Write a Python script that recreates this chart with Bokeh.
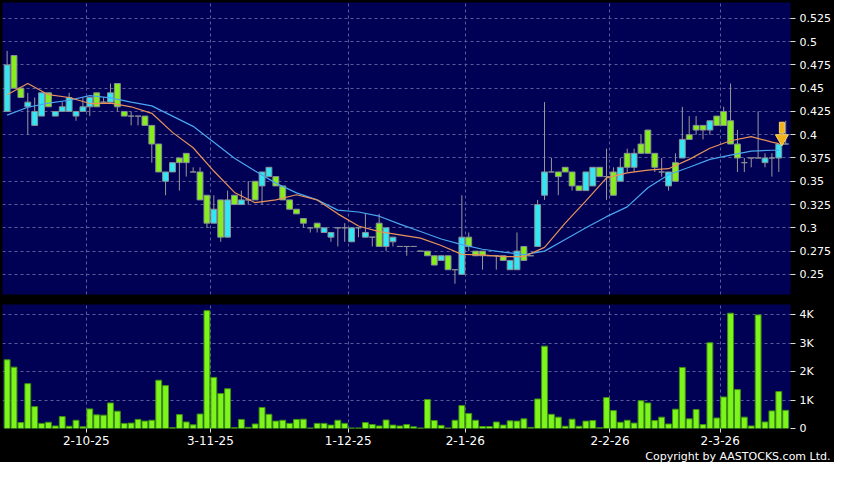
from bokeh.plotting import figure
from bokeh.layouts import column
from bokeh.models import (ColumnDataSource, FixedTicker, CustomJSTickFormatter,
                          Title, Range1d)
from bokeh.embed import file_html
from bokeh.resources import INLINE

# ---------------- data ----------------
opens = [0.425, 0.485, 0.45, 0.43, 0.41, 0.42, 0.445, 0.42, 0.425, 0.425,
         0.42, 0.425, 0.43, 0.445, 0.435, 0.435, 0.455, 0.425, 0.42, 0.42,
         0.42, 0.41, 0.39, 0.35, 0.36, 0.375, 0.38, 0.36, 0.36, 0.335,
         0.305, 0.33, 0.29, 0.335, 0.325, 0.33, 0.35, 0.345, 0.355, 0.355,
         0.345, 0.33, 0.32, 0.31, 0.30, 0.305, 0.295, 0.29, 0.30, 0.30,
         0.285, 0.30, 0.29, 0.29, 0.305, 0.28, 0.285, 0.28, 0.28, 0.28,
         0.275, 0.275, 0.27, 0.265, 0.27, 0.255, 0.25, 0.29, 0.275, 0.275,
         0.27, 0.27, 0.27, 0.255, 0.255, 0.28, 0.27, 0.28, 0.335, 0.36,
         0.36, 0.365, 0.36, 0.345, 0.34, 0.345, 0.365, 0.355, 0.36, 0.35,
         0.38, 0.365, 0.39, 0.405, 0.38, 0.36, 0.345, 0.37, 0.375, 0.40,
         0.41, 0.41, 0.405, 0.42, 0.425, 0.415, 0.39, 0.37, 0.375, 0.375,
         0.37, 0.375, 0.375, 0.39]
highs = [0.49, 0.485, 0.45, 0.445, 0.44, 0.445, 0.445, 0.425, 0.435, 0.445,
         0.425, 0.44, 0.44, 0.445, 0.44, 0.455, 0.455, 0.425, 0.425, 0.42,
         0.42, 0.41, 0.39, 0.36, 0.37, 0.375, 0.38, 0.365, 0.365, 0.335,
         0.335, 0.33, 0.34, 0.335, 0.34, 0.35, 0.35, 0.36, 0.365, 0.355,
         0.345, 0.33, 0.32, 0.31, 0.30, 0.305, 0.30, 0.295, 0.30, 0.305,
         0.30, 0.30, 0.315, 0.29, 0.315, 0.30, 0.29, 0.28, 0.28, 0.28,
         0.275, 0.275, 0.27, 0.27, 0.27, 0.255, 0.335, 0.295, 0.275, 0.275,
         0.27, 0.27, 0.27, 0.265, 0.295, 0.28, 0.27, 0.33, 0.435, 0.375,
         0.36, 0.365, 0.36, 0.345, 0.36, 0.365, 0.365, 0.385, 0.365, 0.375,
         0.385, 0.385, 0.40, 0.405, 0.38, 0.375, 0.36, 0.38, 0.43, 0.42,
         0.42, 0.41, 0.415, 0.42, 0.43, 0.455, 0.405, 0.375, 0.375, 0.425,
         0.38, 0.38, 0.39, 0.415]
lows = [0.425, 0.45, 0.44, 0.40, 0.41, 0.42, 0.43, 0.42, 0.425, 0.425,
        0.415, 0.425, 0.42, 0.43, 0.435, 0.435, 0.425, 0.42, 0.41, 0.41,
        0.41, 0.37, 0.36, 0.335, 0.36, 0.34, 0.355, 0.36, 0.33, 0.30,
        0.305, 0.285, 0.29, 0.325, 0.325, 0.325, 0.33, 0.325, 0.355, 0.345,
        0.33, 0.32, 0.315, 0.30, 0.295, 0.295, 0.295, 0.285, 0.28, 0.285,
        0.285, 0.29, 0.29, 0.28, 0.28, 0.275, 0.28, 0.28, 0.27, 0.28,
        0.275, 0.27, 0.26, 0.265, 0.255, 0.24, 0.25, 0.275, 0.27, 0.255,
        0.27, 0.255, 0.265, 0.255, 0.255, 0.265, 0.27, 0.28, 0.33, 0.36,
        0.335, 0.36, 0.34, 0.34, 0.34, 0.345, 0.355, 0.33, 0.335, 0.35,
        0.36, 0.36, 0.38, 0.38, 0.36, 0.355, 0.34, 0.35, 0.375, 0.395,
        0.40, 0.395, 0.40, 0.41, 0.41, 0.39, 0.36, 0.36, 0.365, 0.375,
        0.365, 0.355, 0.36, 0.39]
closes = [0.475, 0.45, 0.44, 0.435, 0.425, 0.445, 0.43, 0.425, 0.43, 0.44,
          0.425, 0.43, 0.44, 0.43, 0.435, 0.445, 0.43, 0.42, 0.42, 0.42,
          0.41, 0.39, 0.36, 0.36, 0.37, 0.37, 0.37, 0.36, 0.33, 0.305,
          0.32, 0.29, 0.33, 0.325, 0.33, 0.33, 0.33, 0.36, 0.365, 0.345,
          0.33, 0.32, 0.315, 0.305, 0.30, 0.30, 0.30, 0.295, 0.30, 0.30,
          0.30, 0.30, 0.295, 0.29, 0.28, 0.30, 0.29, 0.28, 0.28, 0.28,
          0.275, 0.27, 0.26, 0.27, 0.255, 0.255, 0.29, 0.28, 0.27, 0.27,
          0.27, 0.27, 0.265, 0.265, 0.275, 0.265, 0.27, 0.325, 0.36, 0.36,
          0.355, 0.36, 0.345, 0.34, 0.36, 0.365, 0.355, 0.355, 0.335, 0.365,
          0.365, 0.38, 0.38, 0.38, 0.365, 0.36, 0.36, 0.35, 0.395, 0.395,
          0.405, 0.405, 0.415, 0.41, 0.41, 0.39, 0.375, 0.37, 0.375, 0.375,
          0.375, 0.375, 0.39, 0.39]
volume_k = [2.42, 2.16, 0.21, 1.58, 0.77, 0.18, 0.22, 0.09, 0.42, 0.08,
            0.29, 0.06, 0.69, 0.48, 0.47, 0.90, 0.61, 0.18, 0.19, 0.32,
            0.26, 0.29, 1.70, 1.51, 0.03, 0.49, 0.23, 0.13, 0.51, 4.15,
            1.80, 1.23, 1.40, 0.03, 0.32, 0.04, 0.16, 0.74, 0.50, 0.26,
            0.29, 0.18, 0.32, 0.33, 0.02, 0.18, 0.18, 0.12, 0.29, 0.18,
            0.02, 0.02, 0.21, 0.14, 0.09, 0.30, 0.12, 0.09, 0.14, 0.06,
            0.02, 1.02, 0.28, 0.11, 0.02, 0.29, 0.81, 0.53, 0.29, 0.07,
            0.07, 0.23, 0.12, 0.27, 0.26, 0.34, 0.04, 1.04, 2.90, 0.50,
            0.40, 0.08, 0.33, 0.08, 0.26, 0.28, 0.03, 1.09, 0.63, 0.22,
            0.29, 0.19, 0.98, 0.90, 0.28, 0.40, 0.16, 0.68, 2.15, 0.34,
            0.67, 0.14, 3.02, 0.37, 1.11, 4.06, 1.37, 0.40, 0.09, 4.00,
            0.23, 0.62, 1.30, 0.64]

ma_idx = [0, 3, 6, 9, 12, 15, 18, 21, 24, 27, 30, 33, 36, 39, 42, 45, 48, 51, 54,
          57, 60, 63, 66, 69, 72, 75, 78, 81, 84, 87, 90, 93, 96, 99, 102, 105,
          108, 111, 112]
ma_short = [0.443, 0.455, 0.443, 0.44, 0.4335, 0.434, 0.43, 0.423, 0.4025, 0.386,
            0.361, 0.338, 0.327, 0.330, 0.3355, 0.33, 0.315, 0.302, 0.296, 0.2925,
            0.289, 0.281, 0.2715, 0.271, 0.269, 0.269, 0.279, 0.305, 0.329, 0.3537,
            0.359, 0.362, 0.3635, 0.3735, 0.3855, 0.3935, 0.398, 0.392, 0.3905]
ma_long = [0.421, 0.4295, 0.434, 0.437, 0.442, 0.4396, 0.435, 0.431, 0.42, 0.409,
           0.392, 0.3747, 0.361, 0.348, 0.3375, 0.33, 0.319, 0.317, 0.3125, 0.304,
           0.296, 0.288, 0.282, 0.277, 0.274, 0.2712, 0.275, 0.2875, 0.300, 0.312,
           0.3225, 0.343, 0.357, 0.365, 0.3735, 0.378, 0.3823, 0.3833, 0.3833]

price_ticks = [0.25, 0.275, 0.3, 0.325, 0.35, 0.375, 0.4, 0.425, 0.45, 0.475, 0.5, 0.525]
vol_ticks = [0, 1, 2, 3, 4]
date_tick_pos = [11.5, 29.5, 49.5, 66.5, 87.5, 103.5]
date_labels = ["2-10-25", "3-11-25", "1-12-25", "2-1-26", "2-2-26", "2-3-26"]

# ---------------- styling ----------------
NAVY = "#000055"
GRID = "#5c5c9c"
UP = "#33e6f2"
DOWN = "#86ee1c"
EDGE = "#8a8f96"
WICK = "#9a9a9a"
FONT = "DejaVu Sans"

n = len(closes)
idx = list(range(n))
body_top = [max(o, c) for o, c in zip(opens, closes)]
body_bot = [min(o, c) for o, c in zip(opens, closes)]
colors = [UP if c > o else (DOWN if c < o else EDGE) for o, c in zip(opens, closes)]
src = ColumnDataSource(dict(x=idx, top=body_top, bottom=body_bot, high=highs,
                            low=lows, color=colors))

xr = Range1d(-0.67, 113.7)

p1 = figure(width=834, height=304, x_range=xr, y_range=Range1d(0.2284, 0.542),
            output_backend="svg", toolbar_location=None, x_axis_location=None,
            y_axis_location="right", background_fill_color=NAVY,
            border_fill_color="black", outline_line_color=None,
            min_border_left=2, min_border_right=44, min_border_top=2,
            min_border_bottom=10)
p1.yaxis.ticker = FixedTicker(ticks=price_ticks)
p1.yaxis.formatter = CustomJSTickFormatter(code="return String(Math.round(tick*1000)/1000);")
p1.ygrid.grid_line_color = GRID
p1.ygrid.grid_line_dash = "3 3"
for g in p1.xgrid:
    g.ticker = FixedTicker(ticks=date_tick_pos)
    g.grid_line_color = GRID
    g.grid_line_dash = "3 3"

p1.segment(x0="x", y0="low", x1="x", y1="high", source=src, line_color=WICK, line_width=1)
p1.vbar(x="x", top="top", bottom="bottom", width=0.85, source=src,
        fill_color="color", line_color=EDGE, line_width=1)
p1.line(ma_idx, ma_long, line_color="#4aa6ee", line_width=1.2)
p1.line(ma_idx, ma_short, line_color="#e8925a", line_width=1.2)

# marker arrow above the latest candle
ax = n - 1.55
p1.rect(x=[ax], y=[closes[-1] + 0.0175], width=5, height=11, width_units="screen",
        height_units="screen", fill_color="#f2b21a", line_color="#f7d56a")
p1.scatter(x=[ax], y=[closes[-1] + 0.006], marker="inverted_triangle", size=13,
           fill_color="#f2b21a", line_color="#f7d56a")

p2 = figure(width=834, height=158, x_range=xr, y_range=Range1d(0, 4.366),
            output_backend="svg", toolbar_location=None, y_axis_location="right",
            background_fill_color=NAVY, border_fill_color="black",
            outline_line_color=None, min_border_left=2, min_border_right=44,
            min_border_top=0, min_border_bottom=0)
p2.yaxis.ticker = FixedTicker(ticks=vol_ticks)
p2.yaxis.formatter = CustomJSTickFormatter(code="return tick == 0 ? '0' : tick + 'K';")
p2.xaxis.ticker = FixedTicker(ticks=date_tick_pos)
p2.xaxis.formatter = CustomJSTickFormatter(
    args=dict(pos=date_tick_pos, labels=date_labels),
    code="const i = pos.indexOf(tick); return i >= 0 ? labels[i] : '';")
p2.ygrid.grid_line_color = GRID
p2.ygrid.grid_line_dash = "3 3"
p2.xgrid.grid_line_color = GRID
p2.xgrid.grid_line_dash = "3 3"
p2.vbar(x=idx, top=volume_k, bottom=0, width=0.85, fill_color="#7df51c",
        line_color="#3f9010", line_width=1)

for p in (p1, p2):
    for axis in p.yaxis:
        axis.axis_line_color = None
        axis.major_tick_line_color = "#dddddd"
        axis.major_tick_out = 5
        axis.major_tick_in = 0
        axis.minor_tick_line_color = None
        axis.major_label_text_color = "white"
        axis.major_label_text_font = FONT
        axis.major_label_text_font_size = "11px"
        axis.major_label_standoff = 4

xa = p2.xaxis[0]
xa.axis_line_color = None
xa.major_tick_line_color = "#dddddd"
xa.major_tick_out = 4
xa.major_tick_in = 0
xa.minor_tick_line_color = None
xa.major_label_text_color = "white"
xa.major_label_text_font = FONT
xa.major_label_text_font_size = "12px"
xa.major_label_standoff = 3

p2.add_layout(Title(text="Copyright by AASTOCKS.com Ltd.", align="right",
                    text_color="white", text_font=FONT, text_font_size="11px",
                    text_font_style="normal", standoff=0, offset=-40), "below")

layout = column(p1, p2, spacing=0, styles={"background-color": "black"})
open("out.html", "w").write(file_html(layout, INLINE))
